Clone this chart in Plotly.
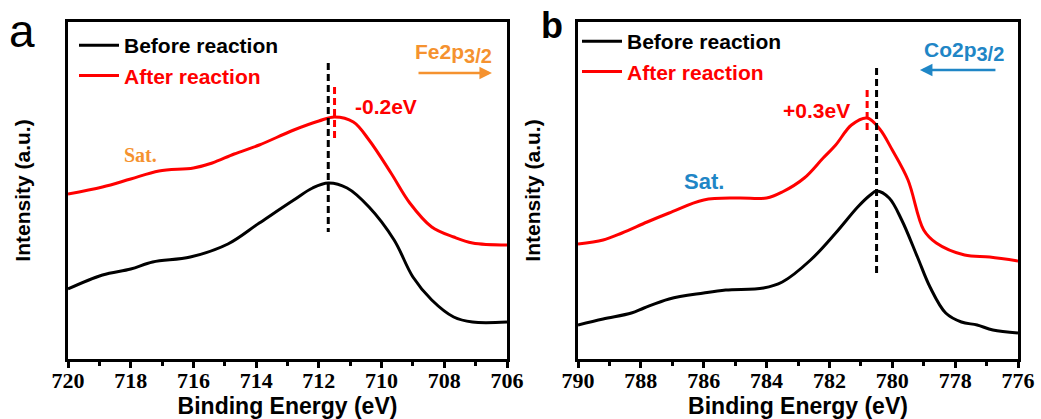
import plotly.graph_objects as go

# ---- Fe 2p3/2 spectra (binding energy in eV, intensity in a.u.) ----
fe_energy_before = [720.0, 718.9, 718.0, 717.3, 716.1, 714.9, 713.9, 712.8, 712.2, 711.7,
                    711.1, 710.4, 709.6, 709.0, 708.4, 707.7, 707.1, 706.0]
fe_before = [70, 84, 90, 97, 102, 115, 136, 159, 171, 176,
             171, 152, 119, 82, 59, 42, 37, 37]

fe_energy_after = [720.0, 718.9, 718.0, 717.1, 716.0, 715.4, 714.7, 713.9, 712.8, 712.0,
                   711.5, 710.9, 710.4, 709.7, 709.1, 708.4, 707.7, 707.1, 706.0]
fe_after = [165, 172, 180, 188, 191, 196, 205, 214, 229, 238,
            242, 237, 219, 186, 156, 132, 122, 116, 114]

# ---- Co 2p3/2 spectra ----
co_energy_before = [790.0, 789.2, 788.3, 787.9, 787.1, 786.0, 785.3, 784.1, 783.5, 782.6,
                    781.8, 781.1, 780.7, 780.5, 780.1, 779.7, 779.2, 778.8, 778.3, 777.8,
                    777.3, 776.8, 776.0]
co_before = [34, 40, 46, 51, 60, 66, 69, 71, 77, 99,
             126, 152, 164, 168, 161, 139, 102, 72, 46, 37,
             34, 29, 26]

co_energy_after = [790.0, 789.2, 788.6, 787.8, 787.1, 786.0, 784.9, 784.0, 783.5, 782.8,
                   782.2, 781.8, 781.3, 780.8, 780.4, 780.0, 779.5, 779.0, 778.6, 777.7,
                   776.9, 776.0]
co_after = [115, 119, 126, 137, 146, 159, 161, 161, 167, 181,
            201, 214, 234, 241, 230, 209, 179, 129, 116, 104,
            102, 98]

# peak positions and shifts
fe_peak_before, fe_peak_after = 711.7, 711.5
co_peak_before, co_peak_after = 780.5, 780.8
fe_shift_label = "-0.2eV"
co_shift_label = "+0.3eV"

x_ticks_fe = [720, 718, 716, 714, 712, 710, 708, 706]
x_ticks_co = [790, 788, 786, 784, 782, 780, 778, 776]

RED = "#FF0000"
ORANGE = "#F5922F"
BLUE = "#1F86C6"
SANS = "Liberation Sans, Arial, sans-serif"
SERIF = "Liberation Serif, Times New Roman, serif"

# figure geometry (pixels)
W, H = 1041, 419
ML, MR, MT, MB = 40, 10, 10, 60
PW, PH = W - ML - MR, H - MT - MB


def px(x):
    """horizontal pixel -> paper fraction"""
    return (x - ML) / PW


def py(y):
    """vertical pixel (from top) -> paper fraction"""
    return (H - MB - y) / PH


fig = go.Figure()


def spectrum(x, y, color, name, xa, ya, legend):
    fig.add_trace(go.Scatter(
        x=x, y=y, mode="lines", name=name, xaxis=xa, yaxis=ya, legend=legend,
        line=dict(color=color, width=3, shape="spline", smoothing=1.0),
    ))


def guide(x, y0, y1, color, xa, ya):
    fig.add_trace(go.Scatter(
        x=[x, x], y=[y0, y1], mode="lines", showlegend=False, xaxis=xa, yaxis=ya,
        line=dict(color=color, width=3, dash="7px,4px"),
    ))


spectrum(fe_energy_before, fe_before, "black", "Before reaction", "x", "y", "legend")
spectrum(fe_energy_after, fe_after, RED,
         f'<span style="color:{RED}">After reaction</span>', "x", "y", "legend")
guide(fe_peak_before, 296, 127, "black", "x", "y")
guide(fe_peak_after, 272, 217, RED, "x", "y")

spectrum(co_energy_before, co_before, "black", "Before reaction", "x2", "y2", "legend2")
spectrum(co_energy_after, co_after, RED,
         f'<span style="color:{RED}">After reaction</span>', "x2", "y2", "legend2")
guide(co_peak_before, 291, 84, "black", "x2", "y2")
guide(co_peak_after, 269, 226, RED, "x2", "y2")

axis_common = dict(
    showline=True, linewidth=3, linecolor="black", mirror=True,
    showgrid=False, zeroline=False, automargin=False,
)
xaxis_common = dict(
    axis_common,
    ticks="outside", ticklen=6, tickwidth=3, tickcolor="black",
    ticklabelstandoff=-6,
    minor=dict(dtick=1, ticks="outside", ticklen=4, tickwidth=3, tickcolor="black"),
    tickfont=dict(family=SERIF, size=22, color="black", weight="bold"),
    title=dict(text="Binding Energy (eV)", standoff=0,
               font=dict(family=SANS, size=23, color="black", weight="bold")),
)
yaxis_common = dict(
    axis_common, range=[0, 337], showticklabels=False, ticks="",
    title=dict(text="Intensity (a.u.)", standoff=29,
               font=dict(family=SANS, size=21, color="black", weight="bold")),
)

ydom = [py(359), py(22)]
legend_font = dict(family=SANS, size=21, color="black", weight="bold")

fig.update_layout(
    width=W, height=H, margin=dict(l=ML, r=MR, t=MT, b=MB),
    paper_bgcolor="white", plot_bgcolor="white",
    xaxis=dict(xaxis_common, domain=[px(68), px(507)], range=[720, 706],
               tickvals=x_ticks_fe, anchor="y"),
    yaxis=dict(yaxis_common, domain=ydom, anchor="x"),
    xaxis2=dict(xaxis_common, domain=[px(578), px(1018)], range=[790, 776],
                tickvals=x_ticks_co, anchor="y2"),
    yaxis2=dict(yaxis_common, domain=ydom, anchor="x2"),
    legend=dict(x=px(74), y=py(25), xanchor="left", yanchor="top", itemwidth=40,
                bgcolor="rgba(0,0,0,0)", tracegroupgap=0, font=legend_font),
    legend2=dict(x=px(577), y=py(21), xanchor="left", yanchor="top", itemwidth=40,
                 bgcolor="rgba(0,0,0,0)", tracegroupgap=0, font=legend_font),
    showlegend=True,
)


def label(text, x, y, color, xref, yref, size, family=SANS, weight="bold"):
    fig.add_annotation(text=text, x=x, y=y, xref=xref, yref=yref, showarrow=False,
                       xanchor="center", yanchor="middle",
                       font=dict(family=family, size=size, color=color, weight=weight))


# panel letters
label("a", px(22), py(31), "black", "paper", "paper", 46, weight="normal")
label("b", px(552), py(25), "black", "paper", "paper", 36, weight="bold")

# panel a annotations
label(fe_shift_label, 709.86, 253, RED, "x", "y", 21)
label('Fe2p<sub><span style="font-size:20px">3/2</span></sub>', 707.72, 306, ORANGE, "x", "y", 21)
label("Sat.", 717.70, 204, ORANGE, "x", "y", 20, family=SERIF)
fig.add_annotation(x=706.48, y=286, ax=708.87, ay=286, xref="x", yref="y",
                   axref="x", ayref="y", text="", showarrow=True,
                   arrowhead=2, arrowsize=1, arrowwidth=2.5, arrowcolor=ORANGE)

# panel b annotations
label(co_shift_label, 782.40, 249, RED, "x2", "y2", 21)
label('Co2p<sub><span style="font-size:20px">3/2</span></sub>', 777.72, 308, BLUE, "x2", "y2", 21)
label("Sat.", 785.99, 178, BLUE, "x2", "y2", 22)
fig.add_annotation(x=779.12, y=289, ax=776.67, ay=289, xref="x2", yref="y2",
                   axref="x2", ayref="y2", text="", showarrow=True,
                   arrowhead=2, arrowsize=1, arrowwidth=2.5, arrowcolor=BLUE)

fig.write_html("out.html")
